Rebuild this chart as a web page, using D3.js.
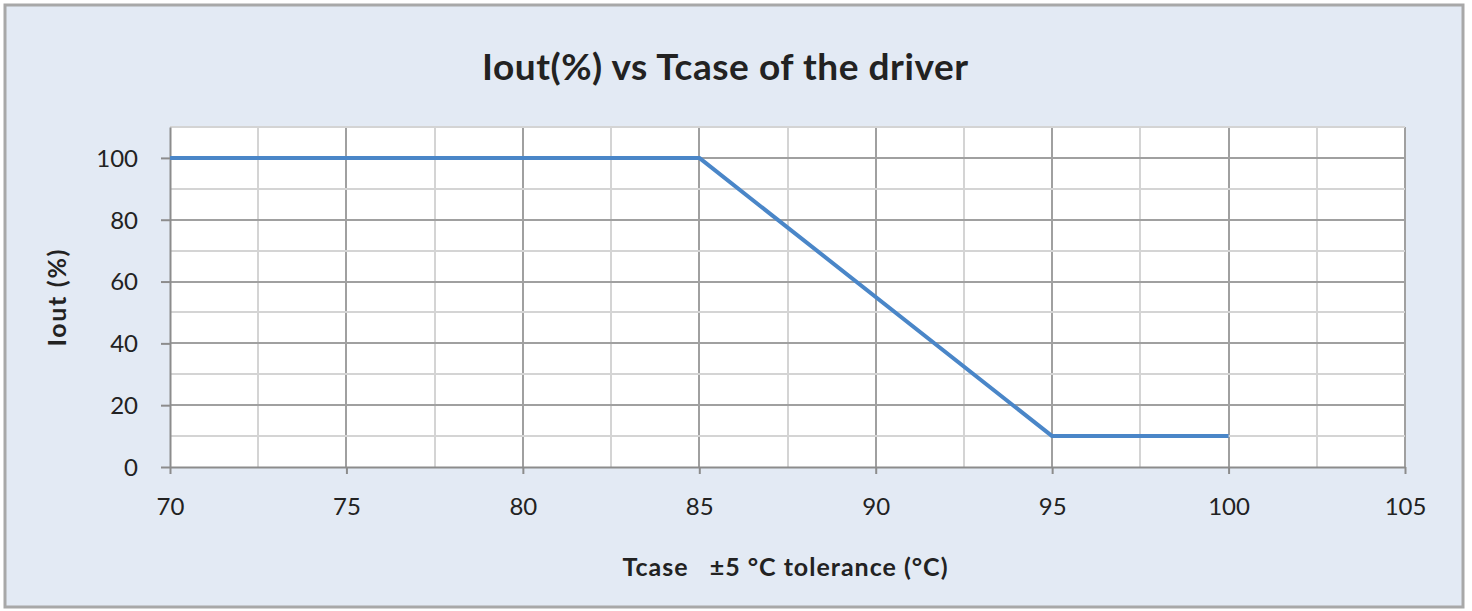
<!DOCTYPE html>
<html>
<head>
<meta charset="utf-8">
<title>Iout vs Tcase</title>
<style>
body { margin: 0; background: #fff; }
text { font-family: Lato, "Open Sans", sans-serif; fill: #222; }
.grid line { shape-rendering: crispEdges; }
</style>
</head>
<body>
<script src="https://cdn.jsdelivr.net/npm/d3@7/dist/d3.min.js"></script>
<script>

var tcase = [70, 85, 95, 100],
    iout = [100, 100, 10, 10],
    xTicks = [70, 75, 80, 85, 90, 95, 100, 105],
    yTicks = [0, 20, 40, 60, 80, 100]

var width = 1472,
    height = 611,
    margin = {left: 170, right: 67, top: 127, bottom: 144}

var svg = d3.select('body').append('svg')
    .attr('width', width)
    .attr('height', height)

// chart frame
svg.append('rect')
    .attr('x', 5).attr('y', 5)
    .attr('width', 1458).attr('height', 602)
    .attr('fill', '#e3eaf4')
    .attr('stroke', '#a8a8a8')
    .attr('stroke-width', 3)

var x = d3.scaleLinear().domain([70, 105]).range([margin.left, width - margin.right])
var y = d3.scaleLinear().domain([0, 110]).range([height - margin.bottom, margin.top])

// plot area
svg.append('rect')
    .attr('x', x(70)).attr('y', y(110))
    .attr('width', x(105) - x(70)).attr('height', y(0) - y(110))
    .attr('fill', '#fff')

var grid = svg.append('g').attr('class', 'grid')

// vertical gridlines, every 2.5 with majors at 5
grid.selectAll('.vg').data(d3.range(72.5, 105.1, 2.5))
    .enter().append('line')
    .attr('x1', function(d){ return x(d) })
    .attr('x2', function(d){ return x(d) })
    .attr('y1', y(0)).attr('y2', y(110))
    .attr('stroke', function(d){ return d % 5 === 0 ? '#a0a0a0' : '#d4d4d4' })
    .attr('stroke-width', 2)

// horizontal gridlines, every 10 with majors at 20
grid.selectAll('.hg').data(d3.range(10, 111, 10))
    .enter().append('line')
    .attr('x1', x(70)).attr('x2', x(105))
    .attr('y1', function(d){ return y(d) })
    .attr('y2', function(d){ return y(d) })
    .attr('stroke', function(d){ return d % 20 === 0 ? '#a0a0a0' : '#d4d4d4' })
    .attr('stroke-width', 2)

// axes
var xAxis = svg.append('g')
    .attr('transform', 'translate(0,' + y(0) + ')')
    .call(d3.axisBottom(x).tickValues(xTicks).tickSize(7).tickSizeOuter(0).tickPadding(24))
var yAxis = svg.append('g')
    .attr('transform', 'translate(' + x(70) + ',0)')
    .call(d3.axisLeft(y).tickValues(yTicks).tickSize(9).tickSizeOuter(0).tickPadding(23))

svg.selectAll('.domain, .tick line')
    .attr('stroke', '#8c8c8c')
    .attr('stroke-width', 2)
svg.selectAll('.tick text')
    .style('font-family', 'Lato, "Open Sans", sans-serif')
    .style('font-size', '24px')
    .attr('fill', '#222')
yAxis.selectAll('.tick text').attr('dy', '0.35em')

// the curve
var line = d3.line()
    .x(function(d, i){ return x(tcase[i]) })
    .y(function(d){ return y(d) })

svg.append('path')
    .datum(iout)
    .attr('fill', 'none')
    .attr('stroke', '#4a86c8')
    .attr('stroke-width', 4)
    .attr('stroke-linejoin', 'round')
    .attr('d', line)

// titles
svg.append('text')
    .attr('x', 725).attr('y', 80)
    .attr('text-anchor', 'middle')
    .attr('textLength', 486)
    .style('font-size', '37px').style('font-weight', 'bold')
    .text('Iout(%) vs Tcase of the driver')

svg.append('text')
    .attr('x', 785).attr('y', 576)
    .attr('text-anchor', 'middle')
    .attr('textLength', 325)
    .style('font-size', '25px').style('font-weight', 'bold')
    .attr('xml:space', 'preserve')
    .text('Tcase   \u00b15 \u00b0C tolerance (\u00b0C)')

svg.append('text')
    .attr('transform', 'translate(66,298) rotate(-90)')
    .attr('text-anchor', 'middle')
    .attr('textLength', 97)
    .style('font-size', '25px').style('font-weight', 'bold')
    .text('Iout (%)')

</script>
</body>
</html>
